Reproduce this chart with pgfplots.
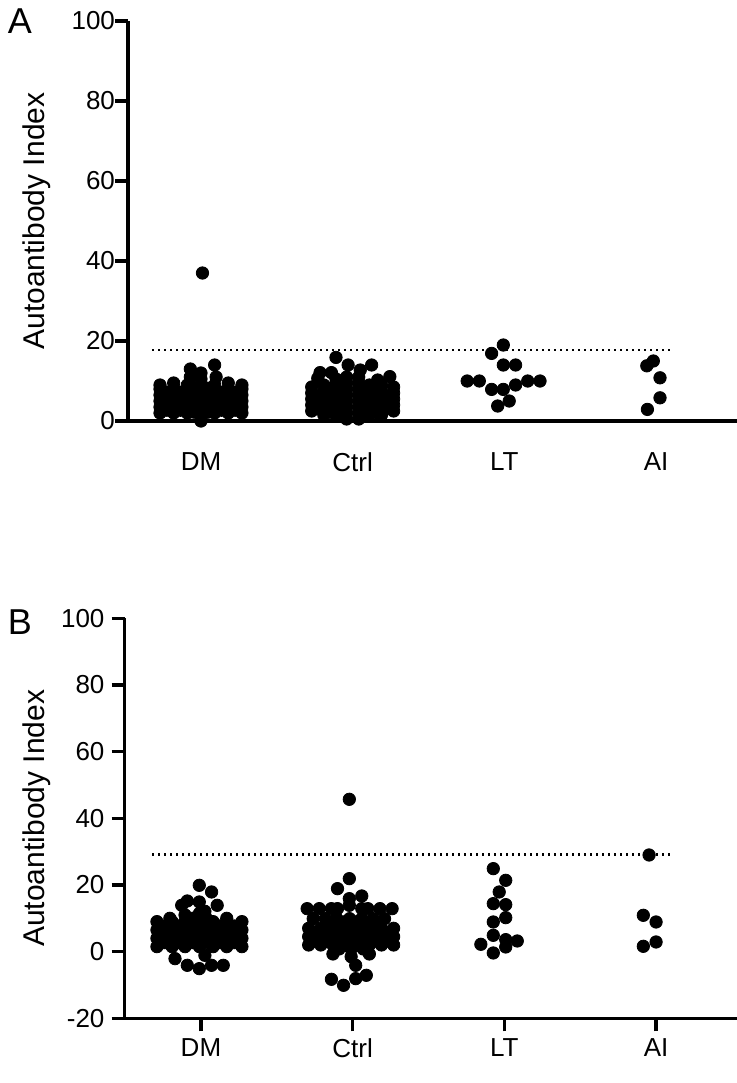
\documentclass[border=0pt]{standalone}
\usepackage{pgfplots}
\pgfplotsset{compat=1.18}
\usepackage{fontspec}
\setmainfont{Liberation Sans}

\pgfplotsset{
  beeswarm/.style={
    scale only axis,
    clip=false,
    axis x line*=bottom,
    axis y line*=left,
    axis line style={-, line width=1.6pt},
    tick align=outside,
    tick style={line width=1.6pt, black},
    xtick={0,1,2,3},
    xticklabels={DM,Ctrl,LT,AI},
    xmax=3.55,
    height=200pt,
    /pgf/number format/assume math mode=true,
    ticklabel style={font=\fontsize{13}{13}\selectfont},
    ylabel={Autoantibody Index},
    ylabel style={font=\fontsize{15}{15}\selectfont, anchor=center},
  },
  dots/.style={only marks, mark=*, mark size=3.1pt, black, mark options={draw=black, fill=black}},
  thr/.style={black, line width=1.2pt, dash pattern=on 1pt off 2pt},
}

\begin{document}
\begin{tikzpicture}
\useasboundingbox (0,0) rectangle (368pt,-541.5pt);

% ---------------- Panel A ----------------
\begin{axis}[beeswarm,
  at={(64pt,-210.5pt)}, anchor=south west,
  width=305.75pt,
  xmin=-0.481,
  ymin=0, ymax=100,
  ytick={0,20,40,60,80,100},
  major tick length=6.5pt,
  xtick style={draw=none},
  yticklabel style={xshift=3.5pt},
  xticklabel style={yshift=-6pt},
  ylabel style={at={(axis description cs:-0.149,0.5)}},
]
\addplot[thr] coordinates {(-0.32,17.7) (3.12,17.7)};
% DM
\addplot[dots] coordinates {
(-0.27,2) (-0.27,3.5) (-0.27,5) (-0.27,6.5) (-0.27,8) (-0.27,9)
(-0.225,2.7) (-0.225,5.7) (-0.225,7.2)
(-0.18,2) (-0.18,3.5) (-0.18,5) (-0.18,6.5) (-0.18,8) (-0.18,9.5)
(-0.135,2.7) (-0.135,4.2) (-0.135,7.2)
(-0.09,2) (-0.09,3) (-0.09,4.5) (-0.09,6) (-0.09,7.5) (-0.09,9) (-0.07,11) (-0.07,13)
(-0.045,2.2) (-0.045,5.2) (-0.045,8.2)
(0,0) (0,1.5) (0,3) (0,4.5) (0,6) (0,7.5) (0,9) (0,10.5) (0,12) (0.01,37)
(0.045,2.2) (0.045,5.2) (0.045,8.2)
(0.09,2) (0.09,3) (0.09,4.5) (0.09,6) (0.09,7.5) (0.09,9) (0.1,11) (0.09,14)
(0.135,2.7) (0.135,4.2) (0.135,7.2)
(0.18,2) (0.18,3.5) (0.18,5) (0.18,6.5) (0.18,8) (0.18,9.5)
(0.225,2.7) (0.225,5.7) (0.225,7.2)
(0.27,2) (0.27,3.5) (0.27,5) (0.27,6.5) (0.27,8) (0.27,9)
};
% Ctrl
\addplot[dots] coordinates {
(0.73,2.5) (0.73,4) (0.73,5.5) (0.73,7) (0.73,8.5)
(0.77,3.2) (0.77,6.2)
(0.81,1.5) (0.81,3) (0.81,4.5) (0.81,6) (0.81,7.5) (0.81,9)
(0.77,10.7) (0.785,12.1) (0.86,12.1)
(0.85,2.2) (0.85,5.2) (0.85,8.2)
(0.89,1.5) (0.89,3) (0.89,4.5) (0.89,6) (0.89,7.5) (0.89,9) (0.89,10.5) (0.89,15.9)
(0.96,0.5) (0.96,2) (0.96,3.5) (0.96,5) (0.96,6.5) (0.96,8) (0.96,9.5) (0.96,11)
(0.97,14)
(1.04,0.5) (1.04,2) (1.04,3.5) (1.04,5) (1.04,6.5) (1.04,8) (1.04,9.5) (1.04,11)
(1.05,12.75)
(1.11,1.5) (1.11,3) (1.11,4.5) (1.11,6) (1.11,7.5) (1.11,9)
(1.125,14) (1.165,10.25)
(1.15,2.2) (1.15,5.2) (1.15,8.2)
(1.19,1.5) (1.19,3) (1.19,4.5) (1.19,6) (1.19,7.5) (1.19,9)
(1.23,3.2) (1.23,6.2)
(1.245,11.1)
(1.27,2.5) (1.27,4) (1.27,5.5) (1.27,7) (1.27,8.5)
};
% LT
\addplot[dots] coordinates {
(1.755,10) (1.835,10) (1.916,7.9) (1.993,7.9) (2.074,9) (2.154,10) (2.235,10)
(1.956,3.75) (2.032,5) (1.993,14) (2.074,14) (1.916,16.9) (1.993,19)
};
% AI
\addplot[dots] coordinates {
(2.939,13.8) (2.982,15) (3.026,10.8) (3.026,5.8) (2.943,2.9)
};
\end{axis}

% ---------------- Panel B ----------------
\begin{axis}[beeswarm,
  at={(62.25pt,-509.15pt)}, anchor=south west,
  width=307.5pt,
  xmin=-0.504,
  ymin=-20, ymax=100,
  ytick={-20,0,20,40,60,80,100},
  major tick length=6.5pt,
  yticklabel style={xshift=0pt},
  ylabel style={at={(axis description cs:-0.142,0.5)}},
]
\addplot[thr] coordinates {(-0.32,29.2) (3.12,29.2)};
% DM
\addplot[dots] coordinates {
(-0.29,1.5) (-0.29,4) (-0.29,6.5) (-0.29,9)
(-0.24,2.7) (-0.24,5.2) (-0.24,7.7)
(-0.19,1.5) (-0.19,4) (-0.19,6.5) (-0.19,9) (-0.205,10)
(-0.145,2.7) (-0.145,5.2) (-0.145,7.7)
(-0.105,1.5) (-0.105,4) (-0.105,6.5) (-0.105,9) (-0.105,11)
(-0.055,2.7) (-0.055,5.2) (-0.055,7.7) (-0.055,10)
(-0.01,1.5) (-0.01,4) (-0.01,6.5) (-0.01,9) (-0.01,11.5)
(0.035,2.7) (0.035,5.2) (0.035,7.7) (0.035,10)
(0.08,1.5) (0.08,4) (0.08,6.5) (0.08,9)
(0.125,2.7) (0.125,5.2) (0.125,7.7) (0.17,10)
(0.17,1.5) (0.17,4) (0.17,6.5) (0.17,9)
(0.22,2.7) (0.22,5.2) (0.22,7.7)
(0.27,1.5) (0.27,4) (0.27,6.5) (0.27,9)
(-0.011,19.9) (0.07,17.9) (-0.127,13.9) (-0.09,15.2) (-0.011,14.9) (0.107,13.9) (0.026,12.1)
(-0.171,-2.1) (-0.09,-4.1) (-0.011,-5.1) (0.07,-4.1) (0.147,-4.1) (0.026,-1.1)
};
% Ctrl
\addplot[dots] coordinates {
(0.978,45.7)
(0.978,21.9) (0.90,18.9) (1.06,16.7) (0.978,15.9) (0.978,13.9)
(0.70,12.9) (0.78,12.9) (0.86,12.9) (0.90,12.9) (1.06,12.9) (1.10,12.9) (1.18,12.9) (1.26,12.9)
(0.74,9.9) (0.82,9.9) (0.895,9.9) (0.98,9.9) (1.06,9.9) (1.135,9.9) (1.21,9.9)
(0.71,2) (0.71,4.5) (0.71,7)
(0.75,3.2) (0.75,5.7)
(0.79,2) (0.79,4.5) (0.79,7)
(0.83,3.2) (0.83,5.7) (0.83,8)
(0.87,2) (0.87,4.5) (0.87,7) (0.87,-0.7)
(0.91,0.8) (0.91,3.2) (0.91,5.7) (0.91,8)
(0.95,2) (0.95,4.5) (0.95,7) (0.95,9)
(0.99,0.8) (0.99,3.2) (0.99,5.7) (0.99,8) (0.99,-1.5)
(1.03,2) (1.03,4.5) (1.03,7) (1.03,9)
(1.07,0.8) (1.07,3.2) (1.07,5.7) (1.07,8)
(1.11,2) (1.11,4.5) (1.11,7) (1.11,-0.7)
(1.15,3.2) (1.15,5.7) (1.15,8)
(1.19,2) (1.19,4.5) (1.19,7)
(1.23,3.2) (1.23,5.7)
(1.27,2) (1.27,4.5) (1.27,7)
(1.02,-4.1) (1.09,-7.1) (1.02,-8.1) (0.86,-8.3) (0.94,-10.1)
};
% LT
\addplot[dots] coordinates {
(1.927,24.9) (2.009,21.4) (1.966,17.9) (1.927,14.4) (2.009,14.1) (1.927,8.9) (2.009,10.2)
(1.927,4.9) (2.009,3.6) (2.085,3.2) (1.845,2.2) (2.009,1.4) (1.927,-0.4)
};
% AI
\addplot[dots] coordinates {
(2.954,29) (2.916,10.9) (3.0,8.9) (2.916,1.6) (3.0,2.9)
};
\end{axis}

\node[font=\fontsize{18}{18}\selectfont] at (10pt,-10.4pt) {A};
\node[font=\fontsize{18}{18}\selectfont] at (10pt,-311pt) {B};
\end{tikzpicture}
\end{document}
